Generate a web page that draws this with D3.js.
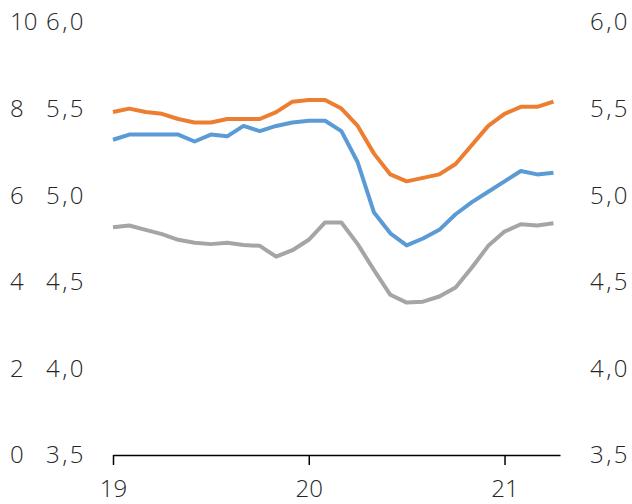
<!DOCTYPE html>
<html>
<head>
<meta charset="utf-8">
<script src="https://cdn.jsdelivr.net/npm/d3@7"></script>
<style>
  html, body { margin: 0; padding: 0; background: #ffffff; }
  svg text { font-family: "Open Sans", "Segoe UI", sans-serif; font-weight: 300; fill: #262626; }
</style>
</head>
<body>
<svg id="chart" width="632" height="504"></svg>
<script>
// Monthly observations, January 2019 onwards
const months = d3.range(28);
const orangeSeries = [5.48, 5.50, 5.48, 5.47, 5.44, 5.42, 5.42, 5.44, 5.44, 5.44,
  5.48, 5.54, 5.55, 5.55, 5.50, 5.40, 5.24, 5.12, 5.08, 5.10,
  5.12, 5.18, 5.29, 5.40, 5.47, 5.51, 5.51, 5.54];
const blueSeries = [5.32, 5.35, 5.35, 5.35, 5.35, 5.31, 5.35, 5.34, 5.40, 5.37,
  5.40, 5.42, 5.43, 5.43, 5.37, 5.19, 4.90, 4.78, 4.71, 4.75,
  4.80, 4.89, 4.96, 5.02, 5.08, 5.14, 5.12, 5.13];
// Grey series is read against the outer left axis (0–10)
const greySeries = [5.26, 5.30, 5.20, 5.10, 4.97, 4.90, 4.87, 4.90, 4.85, 4.83,
  4.58, 4.73, 4.97, 5.37, 5.37, 4.87, 4.27, 3.70, 3.52, 3.54,
  3.66, 3.87, 4.33, 4.83, 5.16, 5.33, 5.30, 5.35];

const yearTicks = [0, 12, 24];
const yearLabels = ["19", "20", "21"];
const outerTicks = [0, 2, 4, 6, 8, 10];
const innerTicks = [3.5, 4.0, 4.5, 5.0, 5.5, 6.0];

const svg = d3.select("#chart");
const plotLeft = 113, plotRight = 560, plotTop = 22, plotBottom = 455;

const x = d3.scaleLinear().domain([0, 27.4]).range([plotLeft, plotRight]);
const yRate = d3.scaleLinear().domain([3.5, 6.0]).range([plotBottom, plotTop]);
const yOuter = d3.scaleLinear().domain([0, 10]).range([plotBottom, plotTop]);

const fmt = d3.format(".1f");
const comma = v => fmt(v).replace(".", ",");

// Outer left axis labels (0–10), left aligned
svg.append("g").selectAll("text").data(outerTicks).join("text")
  .attr("x", 10).attr("y", d => yOuter(d))
  .attr("dy", "0.35em")
  .attr("text-anchor", "start")
  .style("font-size", "24px")
  .text(d => d);

// Inner left axis labels
svg.append("g").selectAll("text").data(innerTicks).join("text")
  .attr("x", 46).attr("y", d => yRate(d))
  .attr("dy", "0.35em")
  .attr("text-anchor", "start")
  .style("font-size", "24px")
  .style("letter-spacing", "2.5px")
  .text(comma);

// Right axis labels
svg.append("g").selectAll("text").data(innerTicks).join("text")
  .attr("x", 590).attr("y", d => yRate(d))
  .attr("dy", "0.35em")
  .attr("text-anchor", "start")
  .style("font-size", "24px")
  .style("letter-spacing", "2.5px")
  .text(comma);

// Bottom axis
const xAxis = d3.axisBottom(x)
  .tickValues(yearTicks)
  .tickSize(10)
  .tickSizeOuter(0)
  .tickPadding(15)
  .tickFormat((d, i) => yearLabels[i]);

const gx = svg.append("g")
  .attr("transform", `translate(0,${plotBottom})`)
  .call(xAxis);
gx.select(".domain").attr("stroke", "#000").attr("stroke-width", 1.5);
gx.selectAll(".tick line").attr("stroke", "#000").attr("stroke-width", 1.5);
gx.selectAll(".tick text")
  .style("font-size", "24px")
  .style("font-family", "\"Open Sans\", sans-serif")
  .attr("fill", "#262626");

// Lines
const lineRate = d3.line().x((d, i) => x(months[i])).y(d => yRate(d));
const lineOuter = d3.line().x((d, i) => x(months[i])).y(d => yOuter(d));

svg.append("path").datum(greySeries)
  .attr("fill", "none").attr("stroke", "#A5A5A5")
  .attr("stroke-width", 4).attr("stroke-linejoin", "round")
  .attr("d", lineOuter);

svg.append("path").datum(blueSeries)
  .attr("fill", "none").attr("stroke", "#5B9BD5")
  .attr("stroke-width", 4).attr("stroke-linejoin", "round")
  .attr("d", lineRate);

svg.append("path").datum(orangeSeries)
  .attr("fill", "none").attr("stroke", "#ED7D31")
  .attr("stroke-width", 4).attr("stroke-linejoin", "round")
  .attr("d", lineRate);
</script>
</body>
</html>
